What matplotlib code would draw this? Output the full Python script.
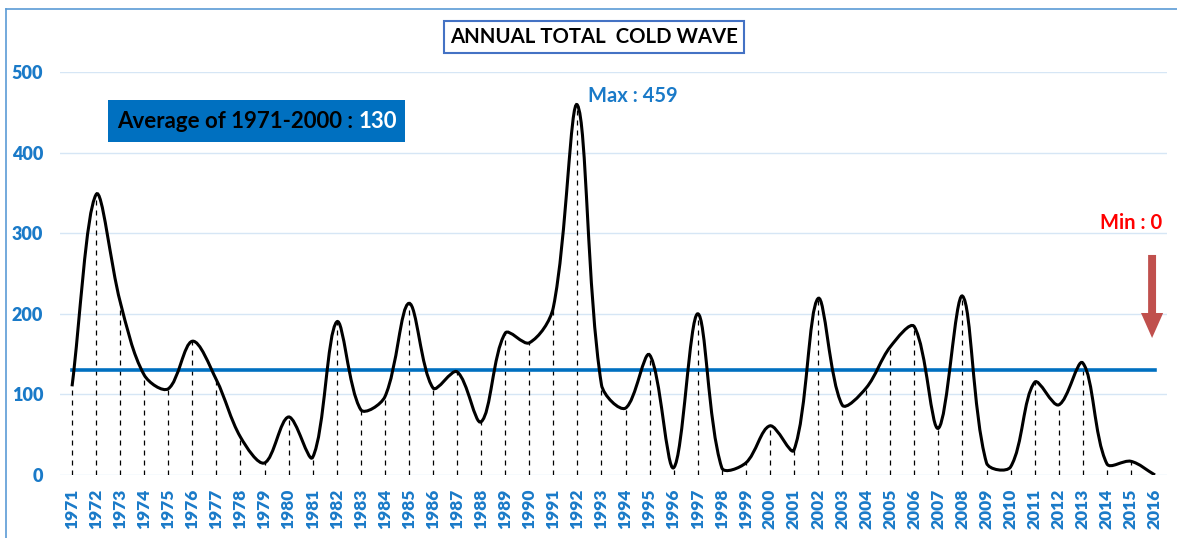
import numpy as np
import matplotlib.pyplot as plt
from matplotlib.path import Path
from matplotlib.patches import PathPatch, Rectangle, FancyArrow
from matplotlib.lines import Line2D

years = list(range(1971, 2017))
cold_wave = [110, 348, 215, 124, 107, 166, 118, 47, 15, 72,
             22, 190, 81, 97, 213, 108, 128, 66, 176, 164,
             208, 459, 112, 83, 149, 9, 200, 9, 15, 61,
             31, 219, 87, 108, 159, 184, 58, 222, 15, 10,
             115, 87, 139, 14, 17, 0]
average = 130
y_ticks = [0, 100, 200, 300, 400, 500]

blue_txt = '#1a7ac8'
plt.rcParams['font.family'] = ['Lato', 'DejaVu Sans']

W, H = 1177, 538
fig = plt.figure(figsize=(W / 100, H / 100), dpi=100)
ax = fig.add_axes([60 / W, 1 - 475 / H, 1107 / W, 403 / H])
ax.set_xlim(1970.5, 2016.5)
ax.set_ylim(0, 500)

x = np.array(years, dtype=float)
y = np.array(cold_wave, dtype=float)

# smoothed line, excel style: tangent along neighbours, scaled by segment lengths (pixels)
px = ax.transData.transform(np.column_stack([x, y]))
n = len(x)
c_out = np.zeros((n, 2))
c_in = np.zeros((n, 2))
for i in range(n):
    a = px[max(i - 1, 0)]
    b = px[min(i + 1, n - 1)]
    t = b - a
    l_in = np.hypot(*(px[i] - a))
    l_out = np.hypot(*(b - px[i]))
    tot = l_in + l_out
    if tot == 0:
        tot = 1
    c_out[i] = px[i] + t * l_out / tot / 3
    c_in[i] = px[i] - t * l_in / tot / 3
inv = ax.transData.inverted()
c_out = inv.transform(c_out)
c_in = inv.transform(c_in)

verts = [(x[0], y[0])]
codes = [Path.MOVETO]
for i in range(n - 1):
    verts += [tuple(c_out[i]), tuple(c_in[i + 1]), (x[i + 1], y[i + 1])]
    codes += [Path.CURVE4] * 3

ax.vlines(x, 0, y, colors='black', linestyles=(0, (4, 4)), linewidth=0.9, zorder=2)
ax.plot([x[0], x[-1]], [average, average], color='#0070c0', linewidth=2.6, zorder=3)
ax.add_patch(PathPatch(Path(verts, codes), facecolor='none', edgecolor='black',
                       linewidth=2.2, zorder=4))

ax.set_yticks(y_ticks)
ax.set_xticks(years)
ax.set_xticklabels([str(v) for v in years], rotation=90)
ax.grid(axis='y', color='#d6e6f5', linewidth=1)
ax.set_axisbelow(True)
for s in ax.spines.values():
    s.set_visible(False)
ax.tick_params(length=0, colors=blue_txt)
ax.tick_params(axis='y', pad=12, labelsize=13)
ax.tick_params(axis='x', pad=10, labelsize=12.5)
for lab in ax.get_xticklabels() + ax.get_yticklabels():
    lab.set_fontweight('heavy')

# title box
fig.text(594 / W, 1 - 37 / H, 'ANNUAL TOTAL  COLD WAVE', ha='center', va='center',
         fontsize=14.7, fontweight='bold', color='black',
         bbox=dict(boxstyle='square,pad=0.3', facecolor='white', edgecolor='#4472c4', linewidth=1.5))

# average box
fig.patches.append(Rectangle((108 / W, 1 - 142 / H), 297 / W, 42 / H,
                             transform=fig.transFigure, facecolor='#0070c0', edgecolor='none'))
t1 = fig.text(117 / W, 1 - 121 / H, 'Average of 1971-2000 : ', ha='left', va='center',
              fontsize=16, fontweight='bold', color='black')
fig.canvas.draw()
bb = t1.get_window_extent()
fig.text(bb.x1 / W, 1 - 121 / H, str(average), ha='left', va='center',
         fontsize=16, fontweight='bold', color='white')

ax.text(1992.45, 470, 'Max : 459', color=blue_txt, fontsize=14.5, fontweight='bold',
        ha='left', va='center')
ax.text(2016.3, 313, 'Min : 0', color='#ff0000', fontsize=14.5, fontweight='bold',
        ha='right', va='center')
ax.add_patch(FancyArrow(2015.88, 273, 0, -103, width=0.33, head_width=0.92, head_length=31,
                        length_includes_head=True, facecolor='#c0504d', edgecolor='none',
                        zorder=5))

# outer frame
fig.add_artist(Line2D([6 / W, 6 / W], [0, 1 - 9 / H], transform=fig.transFigure,
                      color='#5b9bd5', linewidth=1.2))
fig.add_artist(Line2D([6 / W, 1], [1 - 9 / H, 1 - 9 / H], transform=fig.transFigure,
                      color='#5b9bd5', linewidth=1.2))

fig.savefig('out.png', dpi=100)
